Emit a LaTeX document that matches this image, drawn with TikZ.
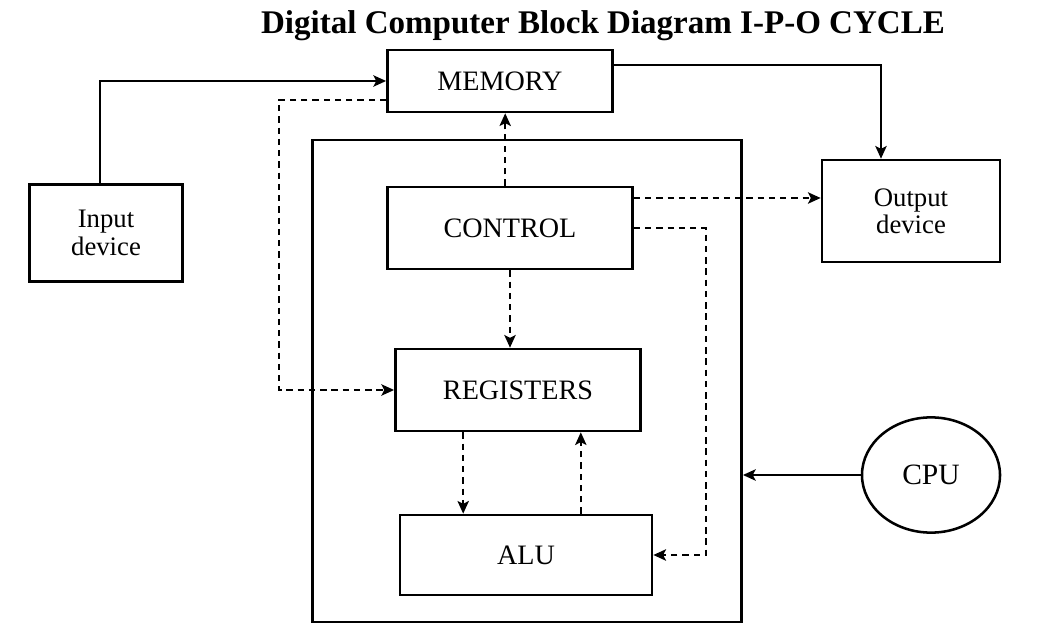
\documentclass[tikz,border=0pt]{standalone}
\usepackage{fontspec}
\setmainfont{Liberation Serif}
\usepackage{tikz}
\usetikzlibrary{shapes,arrows.meta}
\tikzstyle{block} = [draw, line width=1.8pt, rectangle, fill=white,
    font=\fontsize{20}{23}\selectfont, align=center]
\tikzstyle{device} = [block, font=\fontsize{19}{19.5}\selectfont]
\tikzstyle{flow} = [->, line width=1.8pt]
\tikzstyle{signal} = [->, line width=1.8pt, dash pattern=on 4.5pt off 3.5pt]

\begin{document}
\begin{tikzpicture}[x=0.025cm, y=-0.025cm, >={Stealth[length=9pt,width=8pt,inset=2pt]}]
    \useasboundingbox (0,0) rectangle (1041,630);
    % the title and the frame of the processing unit
    \node [font=\bfseries\fontsize{23.5}{26}\selectfont] (title) at (603,26) {Digital Computer Block Diagram I-P-O CYCLE};
    \node [draw, line width=1.8pt, minimum width=10.73cm, minimum height=12.05cm] (cpubox) at (527,381) {};
    % We place the blocks
    \node [block, minimum width=5.63cm, minimum height=1.55cm] (memory) at (500,81) {MEMORY};
    \node [block, minimum width=6.13cm, minimum height=2.05cm] (control) at (510,228) {CONTROL};
    \node [block, minimum width=6.13cm, minimum height=2.05cm] (registers) at (518,390) {REGISTERS};
    \node [block, minimum width=6.3cm, minimum height=2cm] (alu) at (526,555) {ALU};
    \node [device, minimum width=3.83cm, minimum height=2.43cm] (input) at (106,233) {Input\\device};
    \node [device, minimum width=4.45cm, minimum height=2.55cm] (output) at (911,211) {Output\\device};
    \node [block, ellipse, minimum width=3.45cm, minimum height=2.88cm, font=\fontsize{21}{23}\selectfont] (cpu) at (931,475) {CPU};
    % We draw the solid data lines
    \draw [flow] ([xshift=-0.15cm]input.north) |- (memory.west);
    \draw [flow] ([yshift=0.4cm]memory.east) -| ([xshift=-0.75cm]output.north);
    \draw [flow] (cpu.west) -- (cpu.west -| cpubox.east);
    % We draw the dashed control lines
    \draw [signal] ([yshift=-0.47cm]memory.west) -- ++(-2.68cm,0) |- (registers.west);
    \draw [signal] ([xshift=-0.12cm]control.north) -- ([xshift=-0.12cm]control.north |- memory.south);
    \draw [signal] ([yshift=0.75cm]control.east) -- ([yshift=0.75cm]control.east -| output.west);
    \draw [signal] (control.east) -- ++(1.8cm,0) |- (alu.east);
    \draw [signal] (control.south) -- (control.south |- registers.north);
    \draw [signal] ([xshift=-1.37cm]registers.south) -- ([xshift=-1.37cm]registers.south |- alu.north);
    \draw [signal] ([xshift=1.37cm]alu.north) -- ([xshift=1.37cm]alu.north |- registers.south);
\end{tikzpicture}
\end{document}
